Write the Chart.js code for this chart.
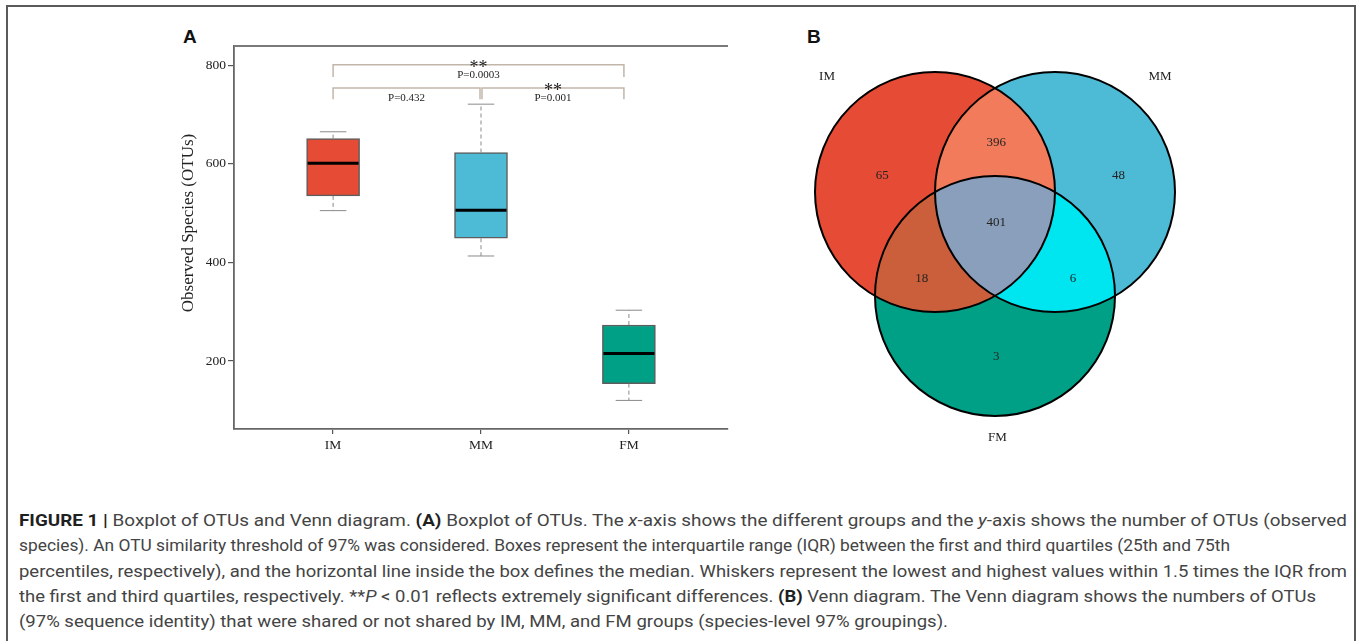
<!DOCTYPE html>
<html>
<head>
<meta charset="utf-8">
<script src="https://cdn.jsdelivr.net/npm/chart.js@4.4.0/dist/chart.umd.min.js"></script>
<style>
    body { margin: 0; background: #fff; width: 1360px; height: 641px; overflow: hidden; position: relative; }
    .frame { position: absolute; left: 6px; top: 5px; width: 1346px; height: 700px; border: 2px solid #5a5a5a; }
    .panel-tag { position: absolute; font: bold 19px "Liberation Sans", Arial, sans-serif; color: #111; }
    #chartBox { position: absolute; left: 170px; top: 20px; }
    #chartVenn { position: absolute; left: 780px; top: 20px; }
    .caption { position: absolute; left: 19px; top: 508px; font: 17px "Liberation Sans Narrow", Roboto, "Liberation Sans", sans-serif; color: #444; line-height: 25.3px; }
    .cap-line { display: inline-block; white-space: nowrap; transform-origin: 0 0; }
    .caption b { color: #1f1f1f; }
</style>
</head>
<body>
<div class="frame"></div>
<div class="panel-tag" style="left:183px; top:26px;">A</div>
<div class="panel-tag" style="left:807px; top:26px;">B</div>
<canvas id="chartBox" width="580" height="440"></canvas>
<canvas id="chartVenn" width="440" height="440"></canvas>
<div class="caption">
    <span class="cap-line"><b>FIGURE 1 |</b> Boxplot of OTUs and Venn diagram. <b>(A)</b> Boxplot of OTUs. The <i>x</i>-axis shows the different groups and the <i>y</i>-axis shows the number of OTUs (observed</span><br>
    <span class="cap-line">species). An OTU similarity threshold of 97% was considered. Boxes represent the interquartile range (IQR) between the first and third quartiles (25th and 75th</span><br>
    <span class="cap-line">percentiles, respectively), and the horizontal line inside the box defines the median. Whiskers represent the lowest and highest values within 1.5 times the IQR from</span><br>
    <span class="cap-line">the first and third quartiles, respectively. **<i>P</i> &lt; 0.01 reflects extremely significant differences. <b>(B)</b> Venn diagram. The Venn diagram shows the numbers of OTUs</span><br>
    <span class="cap-line">(97% sequence identity) that were shared or not shared by IM, MM, and FM groups (species-level 97% groupings).</span>
</div>
<script>
// --- panel A: boxplot ---
const grupos = ['IM', 'MM', 'FM'];
const posGrupos = [1, 2, 3];
const bigoteBajo = [505, 413, 120];
const cuartil1 = [535, 449, 154];
const medianas = [601, 506, 215];
const cuartil3 = [651, 623, 273];
const bigoteAlto = [665, 721, 303];
const coloresCaja = ['#E64B35', '#4DBBD5', '#00A087'];
const ticksY = [200, 400, 600, 800];

// comparaciones entre grupos
const compDesde = [1, 1, 2];
const compHasta = [3, 2, 3];
const compTextoP = ['P=0.0003', 'P=0.432', 'P=0.001'];
const compEstrellas = ['**', '', '**'];
const compNivel = [801, 754, 754];
const compPie = [776, 731, 731];

// --- panel B: venn ---
const conjuntos = ['IM', 'MM', 'FM'];
const centrosX = [0, 1, 0.5];
const centrosY = [0, 0, -0.866];
const radioVenn = 1;
const regiones = ['IM', 'MM', 'FM', 'IM∩MM', 'IM∩FM', 'MM∩FM', 'IM∩MM∩FM'];
const conteos = [65, 48, 3, 396, 18, 6, 401];
const coloresRegion = ['#E64B35', '#4DBBD5', '#00A087', '#F27B5B', '#CB5F3B', '#00E6F0', '#8A9FBB'];
// donde va cada número / nombre (unidades del diagrama)
const etiquetaX = [-0.44, 1.53, 0.51, 0.51, -0.11, 1.15, 0.51];
const etiquetaY = [0.136, 0.136, -1.372, 0.411, -0.719, -0.719, -0.256];
const nombreX = [-0.9, 1.875, 0.52];
const nombreY = [0.961, 0.961, -2.044];

const SERIF = '"Liberation Serif", "Times New Roman", serif';

const extrasCaja = {
    id: 'extrasCaja',
    afterDatasetsDraw(chart) {
        const { ctx, chartArea } = chart;
        const xS = chart.scales.x, yS = chart.scales.y;
        const meta = chart.getDatasetMeta(0);
        ctx.save();

        // borde superior
        ctx.strokeStyle = '#7a7a7a';
        ctx.lineWidth = 1.8;
        ctx.beginPath();
        ctx.moveTo(chartArea.left, chartArea.top);
        ctx.lineTo(chartArea.right, chartArea.top);
        ctx.stroke();

        posGrupos.forEach((p, i) => {
            const x = xS.getPixelForValue(p);
            const w = meta.data[i].width;
            // bigotes
            ctx.strokeStyle = '#8a8a8a';
            ctx.lineWidth = 1;
            ctx.setLineDash([4, 3]);
            ctx.beginPath();
            ctx.moveTo(x, yS.getPixelForValue(cuartil3[i]));
            ctx.lineTo(x, yS.getPixelForValue(bigoteAlto[i]));
            ctx.moveTo(x, yS.getPixelForValue(cuartil1[i]));
            ctx.lineTo(x, yS.getPixelForValue(bigoteBajo[i]));
            ctx.stroke();
            ctx.setLineDash([]);
            ctx.beginPath();
            [bigoteAlto[i], bigoteBajo[i]].forEach(v => {
                const y = yS.getPixelForValue(v);
                ctx.moveTo(x - w / 4, y);
                ctx.lineTo(x + w / 4, y);
            });
            ctx.stroke();
            // mediana
            ctx.strokeStyle = '#000';
            ctx.lineWidth = 3;
            ctx.beginPath();
            const ym = yS.getPixelForValue(medianas[i]);
            ctx.moveTo(x - w / 2 + 1, ym);
            ctx.lineTo(x + w / 2 - 1, ym);
            ctx.stroke();
        });

        // corchetes de significancia
        compDesde.forEach((a, i) => {
            const x1 = xS.getPixelForValue(a) + (a === 2 ? 1 : 0);
            const x2 = xS.getPixelForValue(compHasta[i]) - (compHasta[i] === 2 ? 1 : 5);
            const yl = yS.getPixelForValue(compNivel[i]);
            const yp = yS.getPixelForValue(compPie[i]);
            ctx.strokeStyle = '#c2b6aa';
            ctx.lineWidth = 1.5;
            ctx.beginPath();
            ctx.moveTo(x1, yp);
            ctx.lineTo(x1, yl);
            ctx.lineTo(x2, yl);
            ctx.lineTo(x2, yp);
            ctx.stroke();
            const xm = (x1 + x2) / 2;
            ctx.fillStyle = '#222';
            ctx.textAlign = 'center';
            if (compEstrellas[i]) {
                ctx.font = '18px ' + SERIF;
                ctx.textBaseline = 'alphabetic';
                ctx.fillText(compEstrellas[i], xm, yl + 8);
            }
            ctx.font = '11px ' + SERIF;
            ctx.textBaseline = 'middle';
            ctx.fillText(compTextoP[i], xm, yl + 10);
        });

        // titulo eje y
        ctx.translate(19, 203);
        ctx.rotate(-Math.PI / 2);
        ctx.font = '17px ' + SERIF;
        ctx.fillStyle = '#222';
        ctx.textAlign = 'center';
        ctx.textBaseline = 'middle';
        ctx.fillText('Observed Species (OTUs)', 0, 0);
        ctx.restore();
    }
};

new Chart(document.getElementById('chartBox'), {
    type: 'bar',
    data: {
        datasets: [{
            data: posGrupos.map((p, i) => ({ x: p, y: [cuartil1[i], cuartil3[i]] })),
            backgroundColor: coloresCaja,
            borderColor: '#5d5d5d',
            borderWidth: 1.5,
            borderSkipped: false,
            barThickness: 53
        }]
    },
    options: {
        responsive: false,
        animation: false,
        events: [],
        layout: { padding: { top: 26, right: 22, left: 0, bottom: 0 } },
        plugins: { legend: { display: false }, tooltip: { enabled: false } },
        scales: {
            x: {
                type: 'linear',
                min: 0.33,
                max: 3.67,
                offset: false,
                afterBuildTicks: s => { s.ticks = posGrupos.map(v => ({ value: v })); },
                afterFit: s => { s.height = 31; },
                ticks: {
                    callback: v => grupos[posGrupos.indexOf(v)],
                    font: { family: SERIF, size: 13.5 },
                    color: '#222',
                    padding: 3
                },
                grid: { offset: false, drawOnChartArea: false, drawTicks: true, tickLength: 5, color: '#555', lineWidth: 1.2 },
                border: { color: '#666', width: 1.8 }
            },
            y: {
                min: 62,
                max: 839,
                afterBuildTicks: s => { s.ticks = ticksY.map(v => ({ value: v })); },
                afterFit: s => { s.width = 64; },
                ticks: {
                    font: { family: SERIF, size: 13.5 },
                    color: '#222',
                    padding: 2
                },
                grid: { drawOnChartArea: false, drawTicks: true, tickLength: 6, color: '#555', lineWidth: 1.2 },
                border: { color: '#666', width: 1.8 }
            }
        }
    },
    plugins: [extrasCaja]
});

// --- venn ---
const dibujoVenn = {
    id: 'dibujoVenn',
    beforeDatasetsDraw(chart) {
        const { ctx } = chart;
        const xS = chart.scales.x;
        const c = chart.getDatasetMeta(0).data.map(e => ({ x: e.x, y: e.y }));
        const r = xS.getPixelForValue(radioVenn) - xS.getPixelForValue(0);
        const circulo = k => { ctx.beginPath(); ctx.arc(c[k].x, c[k].y, r, 0, Math.PI * 2); };
        ctx.save();
        [0, 1, 2].forEach(k => { circulo(k); ctx.fillStyle = coloresRegion[k]; ctx.fill(); });
        [[0, 1, 3], [0, 2, 4], [1, 2, 5]].forEach(([a, b, col]) => {
            ctx.save();
            circulo(a); ctx.clip();
            circulo(b); ctx.fillStyle = coloresRegion[col]; ctx.fill();
            ctx.restore();
        });
        ctx.save();
        circulo(0); ctx.clip();
        circulo(1); ctx.clip();
        circulo(2); ctx.fillStyle = coloresRegion[6]; ctx.fill();
        ctx.restore();
        ctx.strokeStyle = '#000';
        ctx.lineWidth = 2;
        [0, 1, 2].forEach(k => { circulo(k); ctx.stroke(); });
        ctx.restore();
    },
    afterDatasetsDraw(chart) {
        const { ctx } = chart;
        ctx.save();
        ctx.fillStyle = '#222';
        ctx.textAlign = 'center';
        ctx.textBaseline = 'middle';
        ctx.font = '13px ' + SERIF;
        chart.getDatasetMeta(1).data.forEach((e, i) => ctx.fillText(String(conteos[i]), e.x, e.y));
        chart.getDatasetMeta(2).data.forEach((e, i) => ctx.fillText(conjuntos[i], e.x, e.y));
        ctx.restore();
    }
};

new Chart(document.getElementById('chartVenn'), {
    type: 'scatter',
    data: {
        datasets: [
            { data: centrosX.map((x, i) => ({ x, y: centrosY[i] })), pointRadius: 0 },
            { data: etiquetaX.map((x, i) => ({ x, y: etiquetaY[i] })), pointRadius: 0 },
            { data: nombreX.map((x, i) => ({ x, y: nombreY[i] })), pointRadius: 0 }
        ]
    },
    options: {
        responsive: false,
        animation: false,
        events: [],
        layout: { padding: 0 },
        plugins: { legend: { display: false }, tooltip: { enabled: false } },
        scales: {
            x: { display: false, min: -1.2917, max: 2.375 },
            y: { display: false, min: -2.2333, max: 1.4333 }
        }
    },
    plugins: [dibujoVenn]
});

// ajustar el ancho de cada linea del pie de figura
const finLineas = [1347, 1230, 1347, 1316, 948];
document.querySelectorAll('.cap-line').forEach((el, i) => {
    const ancho = el.getBoundingClientRect().width;
    el.style.transform = `scaleX(${(finLineas[i] - 19) / ancho})`;
});
</script>
</body>
</html>
